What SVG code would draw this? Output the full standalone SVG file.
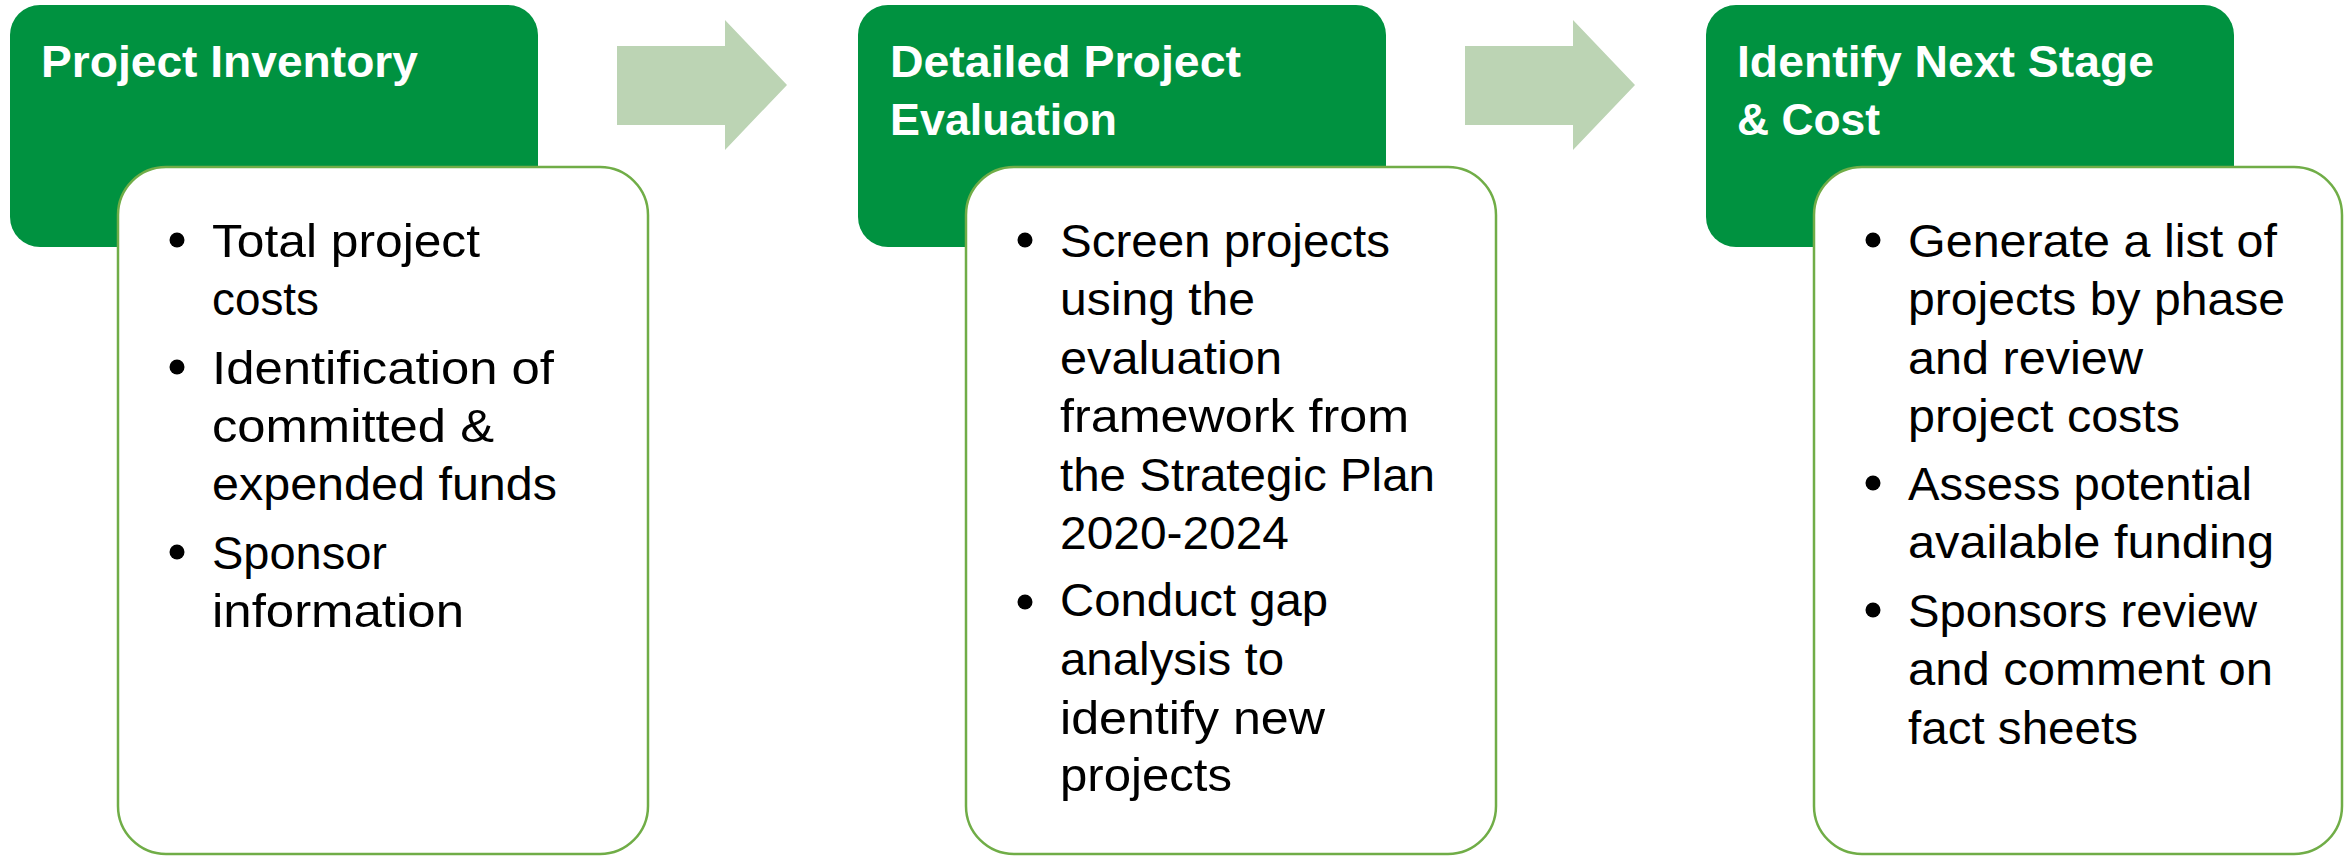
<svg xmlns="http://www.w3.org/2000/svg" width="2344" height="856" viewBox="0 0 2344 856">
<style>
.hdr{fill:#009240}
.body{fill:#ffffff;stroke:#70AD47;stroke-width:2.5}
.ttl{font-family:"Liberation Sans",Arial,sans-serif;font-weight:bold;font-size:45px;fill:#ffffff}
.txt{font-family:"Liberation Sans",Arial,sans-serif;font-size:47px;fill:#000000}
.blt{fill:#000000}
.arr{fill:#BCD4B4}
</style>
<rect width="2344" height="856" fill="#ffffff"/>
<g id="connectors">
<polygon class="arr" points="617,46 725,46 725,20 787,85 725,150 725,125 617,125"/>
<polygon class="arr" points="1465,46 1573,46 1573,20 1635,85 1573,150 1573,125 1465,125"/>
</g>
<g id="step1">
<rect class="hdr" x="10" y="5" width="528" height="242" rx="30"/>
<text class="ttl" x="41" y="77" textLength="377" lengthAdjust="spacingAndGlyphs">Project Inventory</text>
<rect class="body" x="118" y="167" width="530" height="687" rx="48"/>
<circle class="blt" cx="177" cy="240" r="7.5"/>
<circle class="blt" cx="177" cy="367" r="7.5"/>
<circle class="blt" cx="177" cy="552" r="7.5"/>
<text class="txt" x="212" y="257" textLength="268" lengthAdjust="spacingAndGlyphs">Total project</text>
<text class="txt" x="212" y="315.3" textLength="107" lengthAdjust="spacingAndGlyphs">costs</text>
<text class="txt" x="212" y="383.5" textLength="342" lengthAdjust="spacingAndGlyphs">Identification of</text>
<text class="txt" x="212" y="442" textLength="282" lengthAdjust="spacingAndGlyphs">committed &amp;</text>
<text class="txt" x="212" y="500.2" textLength="345" lengthAdjust="spacingAndGlyphs">expended funds</text>
<text class="txt" x="212" y="568.5" textLength="175" lengthAdjust="spacingAndGlyphs">Sponsor</text>
<text class="txt" x="212" y="627" textLength="252" lengthAdjust="spacingAndGlyphs">information</text>
</g>
<g id="step2">
<rect class="hdr" x="858" y="5" width="528" height="242" rx="30"/>
<text class="ttl" x="890" y="77" textLength="351" lengthAdjust="spacingAndGlyphs">Detailed Project</text>
<text class="ttl" x="890" y="135" textLength="227" lengthAdjust="spacingAndGlyphs">Evaluation</text>
<rect class="body" x="966" y="167" width="530" height="687" rx="48"/>
<circle class="blt" cx="1025" cy="240" r="7.5"/>
<circle class="blt" cx="1025" cy="602" r="7.5"/>
<text class="txt" x="1060" y="257" textLength="330" lengthAdjust="spacingAndGlyphs">Screen projects</text>
<text class="txt" x="1060" y="315.3" textLength="195" lengthAdjust="spacingAndGlyphs">using the</text>
<text class="txt" x="1060" y="373.6" textLength="222" lengthAdjust="spacingAndGlyphs">evaluation</text>
<text class="txt" x="1060" y="432" textLength="349" lengthAdjust="spacingAndGlyphs">framework from</text>
<text class="txt" x="1060" y="490.5" textLength="375" lengthAdjust="spacingAndGlyphs">the Strategic Plan</text>
<text class="txt" x="1060" y="548.5" textLength="229" lengthAdjust="spacingAndGlyphs">2020-2024</text>
<text class="txt" x="1060" y="616" textLength="268" lengthAdjust="spacingAndGlyphs">Conduct gap</text>
<text class="txt" x="1060" y="675" textLength="224" lengthAdjust="spacingAndGlyphs">analysis to</text>
<text class="txt" x="1060" y="734" textLength="265" lengthAdjust="spacingAndGlyphs">identify new</text>
<text class="txt" x="1060" y="791" textLength="172" lengthAdjust="spacingAndGlyphs">projects</text>
</g>
<g id="step3">
<rect class="hdr" x="1706" y="5" width="528" height="242" rx="30"/>
<text class="ttl" x="1737" y="77" textLength="417" lengthAdjust="spacingAndGlyphs">Identify Next Stage</text>
<text class="ttl" x="1737" y="135" textLength="143" lengthAdjust="spacingAndGlyphs">&amp; Cost</text>
<rect class="body" x="1814" y="167" width="528" height="687" rx="48"/>
<circle class="blt" cx="1873" cy="240" r="7.5"/>
<circle class="blt" cx="1873" cy="483" r="7.5"/>
<circle class="blt" cx="1873" cy="610" r="7.5"/>
<text class="txt" x="1908" y="257" textLength="369" lengthAdjust="spacingAndGlyphs">Generate a list of</text>
<text class="txt" x="1908" y="315.3" textLength="377" lengthAdjust="spacingAndGlyphs">projects by phase</text>
<text class="txt" x="1908" y="373.6" textLength="235" lengthAdjust="spacingAndGlyphs">and review</text>
<text class="txt" x="1908" y="432" textLength="272" lengthAdjust="spacingAndGlyphs">project costs</text>
<text class="txt" x="1908" y="500" textLength="344" lengthAdjust="spacingAndGlyphs">Assess potential</text>
<text class="txt" x="1908" y="558.3" textLength="366" lengthAdjust="spacingAndGlyphs">available funding</text>
<text class="txt" x="1908" y="627" textLength="349" lengthAdjust="spacingAndGlyphs">Sponsors review</text>
<text class="txt" x="1908" y="685.3" textLength="365" lengthAdjust="spacingAndGlyphs">and comment on</text>
<text class="txt" x="1908" y="743.5" textLength="230" lengthAdjust="spacingAndGlyphs">fact sheets</text>
</g>
</svg>
